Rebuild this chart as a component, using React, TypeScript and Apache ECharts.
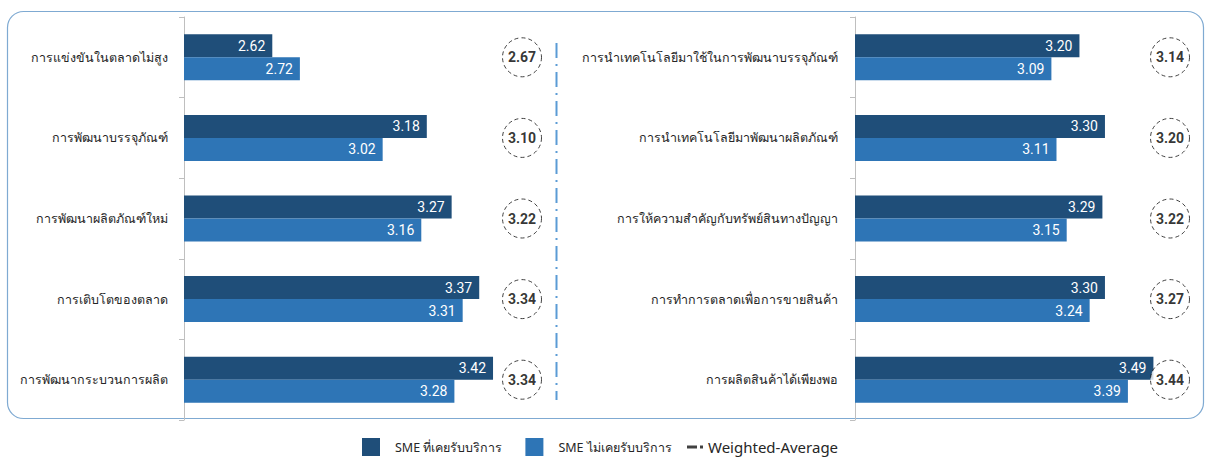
import React, { useEffect, useRef } from "react";
import * as echarts from "echarts";

const SERIES_USED = "SME ที่เคยรับบริการ";
const SERIES_NOT_USED = "SME ไม่เคยรับบริการ";
const SERIES_AVG = "Weighted-Average";

const LEFT_CATEGORIES = [
  "การแข่งขันในตลาดไม่สูง",
  "การพัฒนาบรรจุภัณฑ์",
  "การพัฒนาผลิตภัณฑ์ใหม่",
  "การเติบโตของตลาด",
  "การพัฒนากระบวนการผลิต",
];
const LEFT_USED = [2.62, 3.18, 3.27, 3.37, 3.42];
const LEFT_NOT_USED = [2.72, 3.02, 3.16, 3.31, 3.28];
const LEFT_AVG = [2.67, 3.1, 3.22, 3.34, 3.34];

const RIGHT_CATEGORIES = [
  "การนำเทคโนโลยีมาใช้ในการพัฒนาบรรจุภัณฑ์",
  "การนำเทคโนโลยีมาพัฒนาผลิตภัณฑ์",
  "การให้ความสำคัญกับทรัพย์สินทางปัญญา",
  "การทำการตลาดเพื่อการขายสินค้า",
  "การผลิตสินค้าได้เพียงพอ",
];
const RIGHT_USED = [3.2, 3.3, 3.29, 3.3, 3.49];
const RIGHT_NOT_USED = [3.09, 3.11, 3.15, 3.24, 3.39];
const RIGHT_AVG = [3.14, 3.2, 3.22, 3.27, 3.44];

// axis ranges (the average badges sit at the far end of each axis)
const LEFT_MIN = 2.3;
const LEFT_MAX = 3.525;
const RIGHT_MIN = 2.32;
const RIGHT_MAX = 3.555;

const DARK = "#1f4e79";
const LIGHT = "#2e75b6";
const FONT = "'Noto Sans', sans-serif";
const NUM_FONT = "Roboto, sans-serif";

function yAxisFor(gridIndex: number, cats: string[], margin: number) {
  return {
    gridIndex,
    type: "category",
    data: cats,
    inverse: true,
    axisLine: { show: true, onZero: false, lineStyle: { color: "#bfbfbf", width: 1 } },
    axisTick: { show: true, length: 5, lineStyle: { color: "#bfbfbf" } },
    axisLabel: { color: "#262626", fontSize: 12.5, fontFamily: FONT, margin },
    splitLine: { show: false },
  };
}

function barSeries(name: string, color: string, data: number[], idx: number) {
  return {
    name,
    type: "bar",
    xAxisIndex: idx,
    yAxisIndex: idx,
    data,
    barWidth: 23,
    barGap: "0%",
    itemStyle: { color },
    label: {
      show: true,
      position: "insideRight",
      distance: 7,
      color: "#ffffff",
      fontSize: 14,
      fontFamily: NUM_FONT,
      formatter: (p: any) => Number(p.value).toFixed(2),
    },
  };
}

function avgSeries(cats: string[], avg: number[], markAt: number, idx: number) {
  return {
    name: SERIES_AVG,
    type: "scatter",
    xAxisIndex: idx,
    yAxisIndex: idx,
    clip: false,
    z: 5,
    symbol: "circle",
    symbolSize: 39,
    data: cats.map((c, i) => [markAt, c, avg[i]]),
    encode: { x: 0, y: 1 },
    itemStyle: {
      color: "#ffffff",
      borderColor: "#111111",
      borderWidth: 1,
      borderType: [4, 3],
    },
    label: {
      show: true,
      position: "inside",
      color: "#000000",
      fontSize: 14,
      fontWeight: "bold",
      fontFamily: NUM_FONT,
      formatter: (p: any) => Number(p.value[2]).toFixed(2),
    },
  };
}

export default function App() {
  const ref = useRef<HTMLDivElement>(null);

  useEffect(() => {
    if (!ref.current) return;
    const chart = echarts.init(ref.current, null, { renderer: "svg" });
    const option: any = {
      animation: false,
      backgroundColor: "#ffffff",
      textStyle: { fontFamily: FONT },
      graphic: [
        {
          type: "rect",
          z: -10,
          silent: true,
          shape: { x: 7.5, y: 11.5, width: 1196, height: 407, r: 16 },
          style: { fill: "none", stroke: "#7faad2", lineWidth: 1.2 },
        },
        {
          type: "line",
          silent: true,
          shape: { x1: 556.5, y1: 43, x2: 556.5, y2: 400 },
          style: { stroke: "#5b9bd5", lineWidth: 2, lineDash: [15, 6, 2, 6] },
        },
      ],
      grid: [
        { left: 184, top: 17, width: 338, height: 403, containLabel: false },
        { left: 855, top: 17, width: 315, height: 403, containLabel: false },
      ],
      xAxis: [
        { gridIndex: 0, type: "value", min: LEFT_MIN, max: LEFT_MAX, show: false },
        { gridIndex: 1, type: "value", min: RIGHT_MIN, max: RIGHT_MAX, show: false },
      ],
      yAxis: [yAxisFor(0, LEFT_CATEGORIES, 16), yAxisFor(1, RIGHT_CATEGORIES, 17)],
      legend: [
        {
          data: [SERIES_USED, SERIES_NOT_USED],
          left: 362,
          top: 438,
          padding: 0,
          icon: "rect",
          itemWidth: 18,
          itemHeight: 18,
          itemGap: 23,
          formatter: (name: string) => "{sp|}" + name,
          textStyle: {
            fontSize: 12.5,
            lineHeight: 18,
            color: "#262626",
            fontFamily: FONT,
            rich: { sp: { width: 10, height: 18 } },
          },
        },
        {
          data: [
            {
              name: SERIES_AVG,
              icon: "path://M0,0H10V3H0Z M13,0H16V3H13Z",
              itemStyle: { color: "#111111", borderWidth: 0 },
            },
          ],
          left: 687,
          top: 438,
          padding: 0,
          itemWidth: 16,
          itemHeight: 3,
          textStyle: {
            fontSize: 15,
            lineHeight: 18,
            color: "#262626",
            fontFamily: FONT,
          },
        },
      ],
      series: [
        barSeries(SERIES_USED, DARK, LEFT_USED, 0),
        barSeries(SERIES_NOT_USED, LIGHT, LEFT_NOT_USED, 0),
        avgSeries(LEFT_CATEGORIES, LEFT_AVG, LEFT_MAX, 0),
        barSeries(SERIES_USED, DARK, RIGHT_USED, 1),
        barSeries(SERIES_NOT_USED, LIGHT, RIGHT_NOT_USED, 1),
        avgSeries(RIGHT_CATEGORIES, RIGHT_AVG, RIGHT_MAX, 1),
      ],
    };
    chart.setOption(option);
    return () => chart.dispose();
  }, []);

  return (
    <div
      ref={ref}
      style={{ position: "absolute", left: 0, top: 0, width: 1206, height: 458 }}
    />
  );
}
